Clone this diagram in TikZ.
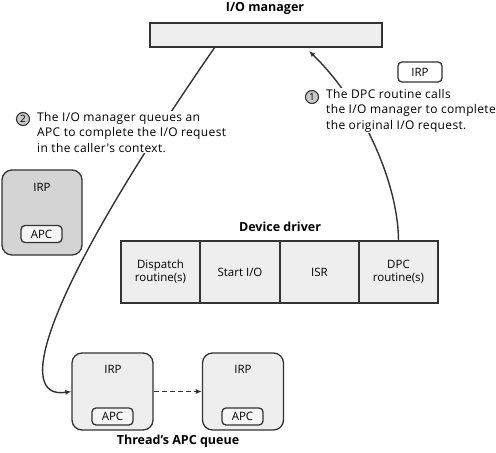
\documentclass[tikz,border=0pt]{standalone}
\usepackage{fontspec}
\setmainfont{Open Sans}
\newfontfamily\annfont[LetterSpace=3]{Open Sans}
\usetikzlibrary{arrows.meta}
\definecolor{ln}{HTML}{333333}
\definecolor{boxfill}{HTML}{EEEEEE}
\definecolor{grayfill}{HTML}{D4D4D4}
\definecolor{numfill}{HTML}{C8C8C8}
\definecolor{apcfill}{HTML}{F6F6F6}
\tikzset{
  bx/.style={draw=ln, line width=1.3pt, fill=boxfill, inner sep=0pt, font=\fontsize{11.5}{13}\selectfont, align=center},
  irpbox/.style={bx, rounded corners=10pt},
  apcbox/.style={draw=ln, line width=1.3pt, fill=apcfill, rounded corners=4pt, inner sep=0pt, minimum width=41pt, minimum height=17pt, font=\fontsize{11.5}{13}\selectfont},
  ttl/.style={font=\bfseries\fontsize{12.5}{14}\selectfont, inner sep=0pt},
  lbl/.style={font=\fontsize{11.5}{13}\selectfont, inner sep=0pt},
  txt/.style={font=\annfont\fontsize{12}{15.5}\selectfont, align=left, inner sep=1pt, fill=white, anchor=north west},
  num/.style={circle, draw=ln, line width=1.1pt, fill=numfill, inner sep=0pt, minimum size=13pt, font=\fontsize{10}{10}\selectfont},
  conn/.style={draw=ln, line width=1.4pt, -{Latex[length=6pt,width=5pt]}},
}
\begin{document}
\begin{tikzpicture}[x=1pt,y=-1pt]
\useasboundingbox (0,0) rectangle (496,453);
% I/O manager
\node[ttl] (iomt) at (265,8) {I/O manager};
\node[bx, minimum width=232pt, minimum height=24pt] (iom) at (266,35) {};
% small IRP
\node[apcbox, fill=white, minimum width=44pt, minimum height=20pt] (irps) at (420,72) {IRP};
% Device driver
\node[ttl] (ddt) at (280,227) {Device driver};
\node[bx, minimum width=79pt, minimum height=62pt] (disp) at (160.5,272) {Dispatch\\routine(s)};
\node[bx, minimum width=79pt, minimum height=62pt] (sio) at (240,272) {Start I/O};
\node[bx, minimum width=79pt, minimum height=62pt] (isr) at (319.5,272) {ISR};
\node[bx, minimum width=79pt, minimum height=62pt] (dpc) at (398.5,272) {DPC\\routine(s)};
% left gray IRP
\node[irpbox, fill=grayfill, minimum width=80pt, minimum height=85pt] (irpl) at (42,212.5) {};
\node[lbl] (irplt) at (42,187) {IRP};
\node[apcbox] (apcl) at (41.5,234) {APC};
% queue
\node[irpbox, minimum width=81pt, minimum height=77pt] (q1) at (112.5,391.5) {};
\node[lbl] (q1t) at (113,369) {IRP};
\node[apcbox] (q1a) at (112.5,416.5) {APC};
\node[irpbox, minimum width=81pt, minimum height=77pt] (q2) at (243,391.5) {};
\node[lbl] (q2t) at (243,369) {IRP};
\node[apcbox] (q2a) at (242.5,416.5) {APC};
\node[ttl] (qt) at (178,441) {Thread's APC queue};
% connectors
\coordinate (t1) at (309,51);
\draw[conn] (dpc.north) .. controls (398,180) and (360,100) .. (t1);
\coordinate (s2) at (215,47);
\draw[conn] (s2) .. controls (40,300) and (15,400) .. (q1.west);
\draw[conn, dash pattern=on 5pt off 3pt] (q1.east) -- (q2.west);
% texts
\node[txt] (tx1) at (325,88) {The DPC routine calls\\the I/O manager to complete\\the original I/O request.};
\node[num] (n1) at (312,97) {1};
\node[txt] (tx2) at (36,111) {The I/O manager queues an\\APC to complete the I/O request\\in the caller's context.};
\node[num] (n2) at (23,119) {2};
\end{tikzpicture}
\end{document}
